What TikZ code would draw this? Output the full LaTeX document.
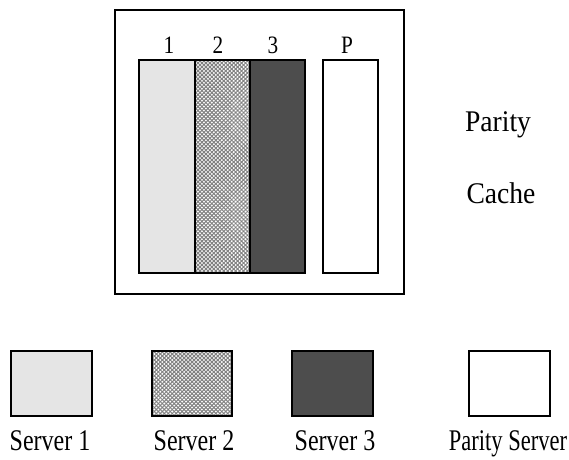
\documentclass[tikz,border=0pt]{standalone}
\usepackage{fontspec}
\setmainfont{Liberation Serif}
\usepackage{graphicx}
\usetikzlibrary{patterns.meta}
\definecolor{lightfill}{HTML}{E5E5E5}
\definecolor{darkfill}{HTML}{4D4D4D}
\newcommand{\narrow}[2]{\scalebox{#1}[1]{#2}}
\tikzset{
  box/.style={draw=black, line width=2pt, inner sep=0pt, minimum width=#1},
  big/.style={font=\fontsize{30}{30}\selectfont, inner sep=0pt, anchor=base},
  small/.style={font=\fontsize{25}{25}\selectfont, inner sep=0pt, anchor=base},
  hatch/.style={pattern={Lines[angle=45,distance=2.8pt,line width=1pt]}, pattern color=black!50},
  hatchb/.style={pattern={Lines[angle=-45,distance=2.8pt,line width=1pt]}, pattern color=black!50},
}
\begin{document}
\begin{tikzpicture}[x=1pt,y=-1pt]
\useasboundingbox (0,0) rectangle (569,459);
% outer cache box
\node[box=289pt, minimum height=284pt] (cache) at (259.5,152) {};
% strips
\node[box=56pt, minimum height=213pt, fill=lightfill] (s1) at (167,166.5) {};
\fill[white] (195,60) rectangle (250,273);
\fill[hatch] (195,60) rectangle (250,273);
\fill[hatchb] (195,60) rectangle (250,273);
\node[box=55pt, minimum height=213pt] (s2) at (222.5,166.5) {};
\node[box=55pt, minimum height=213pt, fill=darkfill] (s3) at (277.5,166.5) {};
\node[box=55pt, minimum height=213pt, fill=white] (sp) at (350.5,166.5) {};
% labels above strips
\node[small] (l1) at (169,53) {\narrow{0.85}{1}};
\node[small] (l2) at (218,53) {\narrow{0.85}{2}};
\node[small] (l3) at (273,53) {\narrow{0.85}{3}};
\node[small] (lp) at (347,53) {\narrow{0.85}{P}};
% side text
\node[big] (parity) at (498,131) {\narrow{0.92}{Parity}};
\node[big] (cachelbl) at (501,203) {\narrow{0.92}{Cache}};
% legend boxes
\node[box=81pt, minimum height=65pt, line width=2.5pt, fill=lightfill] (b1) at (51.5,383.5) {};
\fill[white] (152,351) rectangle (232,416);
\fill[hatch] (152,351) rectangle (232,416);
\fill[hatchb] (152,351) rectangle (232,416);
\node[box=80pt, minimum height=65pt, line width=2.5pt] (b2) at (192,383.5) {};
\node[box=81pt, minimum height=65pt, line width=2.5pt, fill=darkfill] (b3) at (332.5,383.5) {};
\node[box=81pt, minimum height=65pt, line width=2.5pt, fill=white] (b4) at (509.5,383.5) {};
% legend labels
\node[big] (t1) at (50,450) {\narrow{0.8}{Server 1}};
\node[big] (t2) at (194,450) {\narrow{0.8}{Server 2}};
\node[big] (t3) at (335,450) {\narrow{0.8}{Server 3}};
\node[big] (t4) at (508,450) {\narrow{0.75}{Parity Server}};
\end{tikzpicture}
\end{document}
